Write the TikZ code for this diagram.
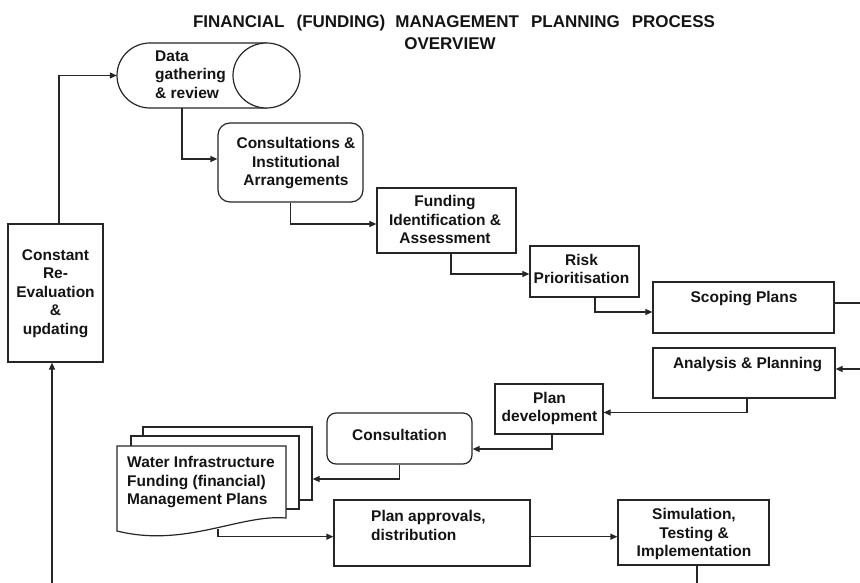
\documentclass[tikz,border=0pt]{standalone}
\usepackage{fontspec}
\setmainfont{Liberation Sans}
\usetikzlibrary{arrows.meta}
\definecolor{linec}{HTML}{262626}
\definecolor{textc}{HTML}{141414}
\begin{document}
\begin{tikzpicture}[x=1pt,y=-1pt,
  box/.style={draw=linec, line width=1.2pt, fill=white, inner sep=0pt},
  rbox/.style={box, rounded corners=#1},
  txt/.style={font=\fontsize{15.5}{18.5}\selectfont\bfseries, text=textc, inner sep=0pt},
  titlefont/.style={font=\fontsize{17}{20}\selectfont\bfseries, text=textc, inner sep=0pt},
  conn/.style={draw=linec, line width=1.2pt},
  arr/.style={conn, -{Triangle[length=7pt,width=6pt]}}]
\useasboundingbox (0,0) rectangle (860,583);

% title
\node[titlefont, anchor=base] (t1) at (454,28) {FINANCIAL\hspace{12pt}(FUNDING)\hspace{10pt}MANAGEMENT\hspace{12pt}PLANNING\hspace{12pt}PROCESS};
\node[titlefont, anchor=base] (t2) at (450,50) {OVERVIEW};

% cylinder: data gathering
\node[inner sep=0pt, minimum width=183pt, minimum height=65pt] (data) at (208.5,75.5) {};
\draw[conn, fill=white] (266.5,43) -- (150,43) arc[start angle=270, end angle=90, x radius=33, y radius=32.5] -- (266.5,108);
\draw[conn, fill=white] (266.5,75.5) ellipse [x radius=33.5, y radius=32.5];
\node[txt, align=left, anchor=west] (datat) at (155,74.5) {Data\\gathering\\\& review};

% boxes
\node[rbox=12pt, minimum width=145pt, minimum height=79pt] (cons) at (290.5,162.5) {};
\node[txt, align=center] (const) at (296,163.5) {Consultations \&\\Institutional\\Arrangements};

\node[box, minimum width=139pt, minimum height=65pt] (fund) at (446.5,220.5) {};
\node[txt, align=center] (fundt) at (445,219.5) {Funding\\Identification \&\\Assessment};

\node[box, minimum width=109pt, minimum height=51pt] (risk) at (584.5,271.5) {};
\node[txt, align=center] (riskt) at (581.5,269) {Risk\\Prioritisation};

\node[box, minimum width=181pt, minimum height=51pt] (scop) at (743.5,307.5) {};
\node[txt, anchor=base] (scopt) at (744,302) {Scoping Plans};

\node[box, minimum width=182pt, minimum height=50pt] (anal) at (744,373) {};
\node[txt, anchor=base] (analt) at (747.5,368) {Analysis \& Planning};

\node[box, minimum width=108pt, minimum height=50pt] (plan) at (549,409) {};
\node[txt, align=center] (plant) at (549.5,408.6) {Plan\\development};

\node[rbox=9pt, minimum width=145pt, minimum height=51pt] (consult) at (399.5,438.5) {};
\node[txt, anchor=base] (consultt) at (399.5,440) {Consultation};

% document stack
\node[box, minimum width=169pt, minimum height=73pt] (docback) at (227.5,463.5) {};
\node[box, minimum width=168pt, minimum height=73pt] (docmid) at (215,472.5) {};
\node[inner sep=0pt, minimum width=169pt, minimum height=86pt] (doc) at (201.5,489) {};
\draw[conn, fill=white] (117,446) -- (286,446) -- (286,518) .. controls (240,514) and (185,548) .. (117,531) -- cycle;
\node[txt, align=left, anchor=west] (doct) at (127,482.4) {Water Infrastructure\\Funding (financial)\\Management Plans};

\node[box, minimum width=196pt, minimum height=66pt] (appr) at (432,533) {};
\node[txt, align=left, anchor=west] (apprt) at (371,525.4) {Plan approvals,\\distribution};

\node[box, minimum width=151pt, minimum height=65pt] (sim) at (693.5,532.5) {};
\node[txt, align=center] (simt) at (694,534) {Simulation,\\Testing \&\\Implementation};

\node[box, minimum width=95pt, minimum height=138pt] (cre) at (55.5,293) {};
\node[txt, align=center] (cret) at (55.5,293.5) {Constant\\Re-\\Evaluation\\\&\\updating};

% connectors
\draw[arr] ([xshift=3.5pt]cre.north) |- (data.west);
\draw[arr] ([xshift=-26.5pt]data.south) |- ([yshift=3.5pt]cons.west);
\draw[arr] (cons.south) |- ([yshift=-3.5pt]fund.west);
\draw[arr] ([xshift=4.5pt]fund.south) |- ([yshift=-2.5pt]risk.west);
\draw[arr] ([xshift=10.5pt]risk.south) |- ([yshift=-4.5pt]scop.west);
\coordinate (offr1) at (860,303);
\draw[conn] ([yshift=4.5pt]scop.east) -- (offr1);
\coordinate (offr2) at (860,369);
\draw[arr] (offr2) -- ([yshift=4pt]anal.east);
\draw[arr] ([xshift=3pt]anal.south) |- ([yshift=-3.5pt]plan.east);
\draw[arr] ([xshift=3pt]plan.south) |- ([yshift=-10.5pt]consult.east);
\draw[arr] (consult.south) |- ([yshift=-15.5pt]docback.east);
\coordinate (docb) at (218,529);
\draw[arr] (docb) |- ([yshift=-3.7pt]appr.west);
\draw[arr] ([yshift=-3.7pt]appr.east) -- ([yshift=-4.2pt]sim.west);
\coordinate (offb1) at (697,583);
\draw[conn] ([xshift=3.5pt]sim.south) -- (offb1);
\coordinate (offb2) at (52,583);
\draw[arr] (offb2) -- ([xshift=-3.5pt]cre.south);
\end{tikzpicture}
\end{document}
